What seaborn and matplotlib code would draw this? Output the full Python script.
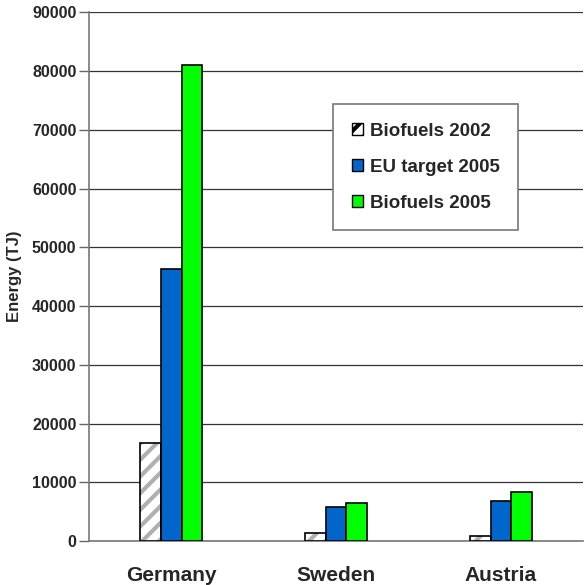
import matplotlib
matplotlib.use("Agg")
import matplotlib.pyplot as plt
from matplotlib.patches import Rectangle, Patch
import seaborn as sns
import pandas as pd

countries = ["Germany", "Sweden", "Austria"]
series = ["Biofuels 2002", "EU target 2005", "Biofuels 2005"]
biofuels_2002 = [16700, 1450, 900]
eu_target_2005 = [46300, 5800, 6800]
biofuels_2005 = [81000, 6450, 8400]
yticks = list(range(0, 90001, 10000))

rows = []
for name, vals in zip(series, [biofuels_2002, eu_target_2005, biofuels_2005]):
    for c, v in zip(countries, vals):
        rows.append({"country": c, "series": name, "energy": v})
df = pd.DataFrame(rows)

sns.set_theme(style="white")
plt.rcParams["font.family"] = ["Liberation Sans", "DejaVu Sans"]
plt.rcParams["font.weight"] = "bold"
plt.rcParams["hatch.linewidth"] = 3.0

fig = plt.figure(figsize=(5.85, 5.85), dpi=100)
ax = fig.add_axes([0.152, 0.075, 0.845, 0.904])

palette = {"Biofuels 2002": "white", "EU target 2005": "#0066CC", "Biofuels 2005": "#00FF00"}
sns.barplot(data=df, x="country", y="energy", hue="series", hue_order=series,
            order=countries, palette=palette, width=0.375, gap=0,
            edgecolor="black", linewidth=1.2, saturation=1, ax=ax, legend=False,
            zorder=3)

# Hatched style for the 2002 series, with a black outline drawn on top
hatched = ax.containers[0]
for p in hatched:
    p.set_facecolor("white")
    p.set_edgecolor("#b0b0b0")
    p.set_hatch("//")
    p.set_linewidth(0)
    ax.add_patch(Rectangle(p.get_xy(), p.get_width(), p.get_height(),
                           fill=False, edgecolor="black", linewidth=1.2, zorder=4))

ax.set_ylim(0, 90000)
ax.set_xlim(-0.5, 2.5)
ax.set_yticks(yticks)
ax.set_yticklabels([str(t) for t in yticks], fontsize=11.5, fontweight="bold")
ax.yaxis.grid(True, color="#333333", linewidth=0.9)
ax.set_axisbelow(True)

ax.set_xticks(range(len(countries)))
ax.set_xticklabels(countries, fontsize=15, fontweight="bold")
ax.tick_params(axis="x", which="major", length=0, pad=18)
ax.set_xticks([-0.5, 0.5, 1.5, 2.5], minor=True)
ax.tick_params(axis="x", which="minor", length=6, color="#666666", width=1, direction="out")
ax.tick_params(axis="y", length=7, color="#666666", width=1, direction="out", pad=2)
ax.tick_params(axis="both", bottom=True, left=True)

ax.set_xlabel("")
ax.set_ylabel("Energy (TJ)", fontsize=12, fontweight="bold", labelpad=7)

for side in ["top", "right"]:
    ax.spines[side].set_visible(False)
for side in ["left", "bottom"]:
    ax.spines[side].set_color("#777777")
    ax.spines[side].set_linewidth(1.2)

handles = [
    Patch(facecolor="white", edgecolor="black", hatch="//", linewidth=1),
    Patch(facecolor="#0066CC", edgecolor="black", linewidth=1),
    Patch(facecolor="#00FF00", edgecolor="black", linewidth=1),
]
leg = ax.legend(handles, series, loc="upper left", bbox_to_anchor=(0.494, 0.826),
                borderaxespad=0, frameon=True, fancybox=False, framealpha=1,
                edgecolor="#777777", prop={"weight": "bold", "size": 13.5},
                handlelength=0.6, handleheight=0.6, handletextpad=0.35,
                labelspacing=1.0, borderpad=1.0)
leg.get_frame().set_linewidth(1.2)
leg.set_zorder(5)

fig.savefig("out.png", dpi=100)
